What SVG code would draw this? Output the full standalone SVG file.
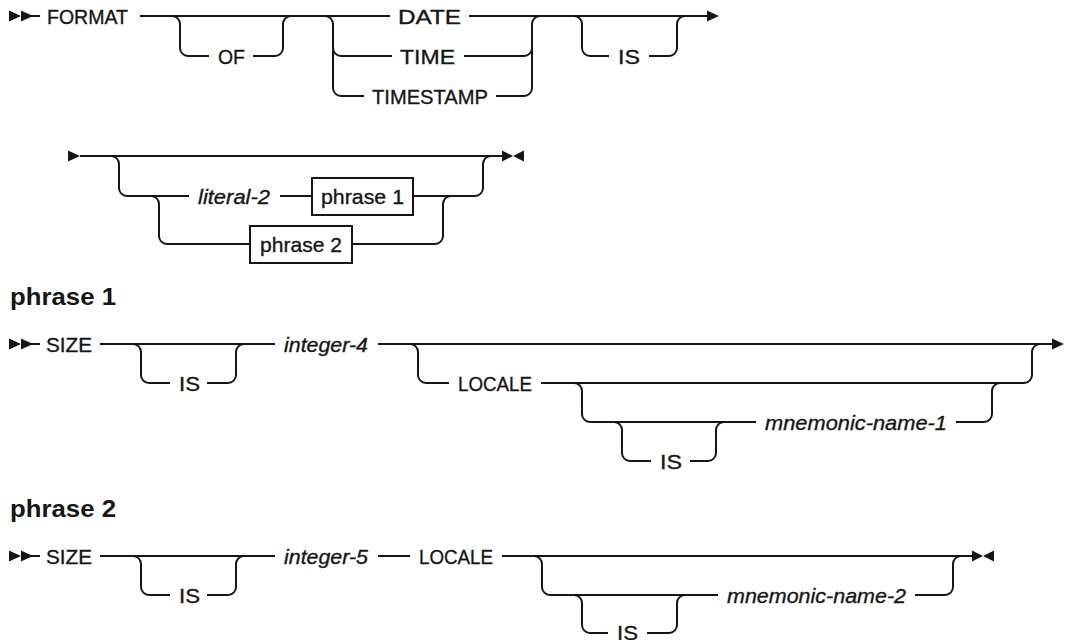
<svg xmlns="http://www.w3.org/2000/svg" width="1065" height="640" viewBox="0 0 1065 640">
<style>
.ln{fill:none;stroke:#161616;stroke-width:2}
.ar{fill:#161616;stroke:none}
.box{fill:#fff;stroke:#161616;stroke-width:2}
.kw{font-family:"Liberation Sans",Arial,sans-serif;font-size:21px;fill:#161616;stroke:#161616;stroke-width:0.35}
.var{font-family:"Liberation Sans",Arial,sans-serif;font-size:21px;font-style:italic;fill:#161616;stroke:#161616;stroke-width:0.35}
.ttl{font-family:"Liberation Sans",Arial,sans-serif;font-size:24px;font-weight:bold;fill:#161616}
</style>
<rect width="1065" height="640" fill="#fff"/>
<g id="connectors">
<path class="ln" d="M30 16 H40 M140 16 H390 M469 16 H708"/>
<path class="ln" d="M172 16 A8 8 0 0 1 180 24 V48 A8 8 0 0 0 188 56 H209 M253 56 H275 A8 8 0 0 0 283 48 V24 A8 8 0 0 1 291 16"/>
<path class="ln" d="M325 16 A8 8 0 0 1 333 24 V88 A8 8 0 0 0 341 96 H364 M333 48 A8 8 0 0 0 341 56 H392"/>
<path class="ln" d="M496 96 H524 A8 8 0 0 0 532 88 V24 A8 8 0 0 1 540 16 M464 56 H524 A8 8 0 0 0 532 48"/>
<path class="ln" d="M574 16 A8 8 0 0 1 582 24 V48 A8 8 0 0 0 590 56 H609 M649 56 H669 A8 8 0 0 0 677 48 V24 A8 8 0 0 1 685 16"/>
<path class="ln" d="M80 156 H503"/>
<path class="ln" d="M111 156 A8 8 0 0 1 119 164 V188 A8 8 0 0 0 127 196 H189 M280 196 H312 M413 196 H475 A8 8 0 0 0 483 188 V164 A8 8 0 0 1 491 156"/>
<path class="ln" d="M151 196 A8 8 0 0 1 159 204 V236 A8 8 0 0 0 167 244 H250 M352 244 H435 A8 8 0 0 0 443 236 V204 A8 8 0 0 1 451 196"/>
<path class="ln" d="M30 344 H40 M100 344 H275 M378 344 H1053"/>
<path class="ln" d="M133 344 A8 8 0 0 1 141 352 V375 A8 8 0 0 0 149 383 H170 M207 383 H228 A8 8 0 0 0 236 375 V352 A8 8 0 0 1 244 344"/>
<path class="ln" d="M410 344 A8 8 0 0 1 418 352 V375 A8 8 0 0 0 426 383 H449 M541 383 H1024 A8 8 0 0 0 1032 375 V352 A8 8 0 0 1 1040 344"/>
<path class="ln" d="M574 383 A8 8 0 0 1 582 391 V414 A8 8 0 0 0 590 422 H756 M956 422 H984 A8 8 0 0 0 992 414 V391 A8 8 0 0 1 1000 383"/>
<path class="ln" d="M614 422 A8 8 0 0 1 622 430 V453 A8 8 0 0 0 630 461 H651 M690 461 H708 A8 8 0 0 0 716 453 V430 A8 8 0 0 1 724 422"/>
<path class="ln" d="M30 556 H40 M100 556 H275 M378 556 H410 M502 556 H973"/>
<path class="ln" d="M133 556 A8 8 0 0 1 141 564 V587 A8 8 0 0 0 149 595 H170 M207 595 H228 A8 8 0 0 0 236 587 V564 A8 8 0 0 1 244 556"/>
<path class="ln" d="M534 556 A8 8 0 0 1 542 564 V587 A8 8 0 0 0 550 595 H718 M915 595 H945 A8 8 0 0 0 953 587 V564 A8 8 0 0 1 961 556"/>
<path class="ln" d="M574 595 A8 8 0 0 1 582 603 V625 A8 8 0 0 0 590 633 H608 M647 633 H669 A8 8 0 0 0 677 625 V603 A8 8 0 0 1 685 595"/>
<path class="ar" d="M9 10.5 L21 16 L9 21.5 Z M21 10.5 L33 16 L21 21.5 Z"/>
<path class="ar" d="M707 10.5 L719 16 L707 21.5 Z"/>
<path class="ar" d="M68 150.5 L80 156 L68 161.5 Z"/>
<path class="ar" d="M502 150.5 L513 156 L502 161.5 Z M524 150.5 L513 156 L524 161.5 Z"/>
<path class="ar" d="M9 338.5 L21 344 L9 349.5 Z M21 338.5 L33 344 L21 349.5 Z"/>
<path class="ar" d="M1052 338.5 L1064 344 L1052 349.5 Z"/>
<path class="ar" d="M9 550.5 L21 556 L9 561.5 Z M21 550.5 L33 556 L21 561.5 Z"/>
<path class="ar" d="M972 550.5 L983 556 L972 561.5 Z M994 550.5 L983 556 L994 561.5 Z"/>
</g>
<g id="n-format"><text class="kw" x="47" y="23.5" textLength="81" lengthAdjust="spacingAndGlyphs">FORMAT</text></g>
<g id="n-of"><text class="kw" x="218" y="63.5" textLength="27" lengthAdjust="spacingAndGlyphs">OF</text></g>
<g id="n-date"><text class="kw" x="398" y="23.5" textLength="63" lengthAdjust="spacingAndGlyphs">DATE</text></g>
<g id="n-time"><text class="kw" x="400" y="63.5" textLength="55" lengthAdjust="spacingAndGlyphs">TIME</text></g>
<g id="n-timestamp"><text class="kw" x="372" y="103.5" textLength="116" lengthAdjust="spacingAndGlyphs">TIMESTAMP</text></g>
<g id="n-is1"><text class="kw" x="618" y="63.5" textLength="22" lengthAdjust="spacingAndGlyphs">IS</text></g>
<g id="n-literal2"><text class="var" x="198" y="203.5" textLength="72" lengthAdjust="spacingAndGlyphs">literal-2</text></g>
<g id="n-phrase1-ref"><rect class="box" x="312" y="178" width="101" height="37"/><text class="kw" x="321" y="203.5" textLength="83" lengthAdjust="spacingAndGlyphs">phrase 1</text></g>
<g id="n-phrase2-ref"><rect class="box" x="250" y="226" width="102" height="37"/><text class="kw" x="260" y="251.5" textLength="82" lengthAdjust="spacingAndGlyphs">phrase 2</text></g>
<g id="t-phrase1"><text class="ttl" x="10" y="305" textLength="106" lengthAdjust="spacingAndGlyphs">phrase 1</text></g>
<g id="p1-size"><text class="kw" x="46" y="351.5" textLength="46" lengthAdjust="spacingAndGlyphs">SIZE</text></g>
<g id="p1-is"><text class="kw" x="179" y="390.5" textLength="21" lengthAdjust="spacingAndGlyphs">IS</text></g>
<g id="p1-integer4"><text class="var" x="284" y="351.5" textLength="84" lengthAdjust="spacingAndGlyphs">integer-4</text></g>
<g id="p1-locale"><text class="kw" x="458" y="390.5" textLength="74" lengthAdjust="spacingAndGlyphs">LOCALE</text></g>
<g id="p1-is2"><text class="kw" x="660" y="468.5" textLength="22" lengthAdjust="spacingAndGlyphs">IS</text></g>
<g id="p1-mnemonic1"><text class="var" x="765" y="429.5" textLength="182" lengthAdjust="spacingAndGlyphs">mnemonic-name-1</text></g>
<g id="t-phrase2"><text class="ttl" x="10" y="517" textLength="106" lengthAdjust="spacingAndGlyphs">phrase 2</text></g>
<g id="p2-size"><text class="kw" x="46" y="563.5" textLength="46" lengthAdjust="spacingAndGlyphs">SIZE</text></g>
<g id="p2-is"><text class="kw" x="179" y="602.5" textLength="21" lengthAdjust="spacingAndGlyphs">IS</text></g>
<g id="p2-integer5"><text class="var" x="284" y="563.5" textLength="84" lengthAdjust="spacingAndGlyphs">integer-5</text></g>
<g id="p2-locale"><text class="kw" x="419" y="563.5" textLength="74" lengthAdjust="spacingAndGlyphs">LOCALE</text></g>
<g id="p2-is2"><text class="kw" x="617" y="640" textLength="21" lengthAdjust="spacingAndGlyphs">IS</text></g>
<g id="p2-mnemonic2"><text class="var" x="727" y="602.5" textLength="179" lengthAdjust="spacingAndGlyphs">mnemonic-name-2</text></g>
</svg>
